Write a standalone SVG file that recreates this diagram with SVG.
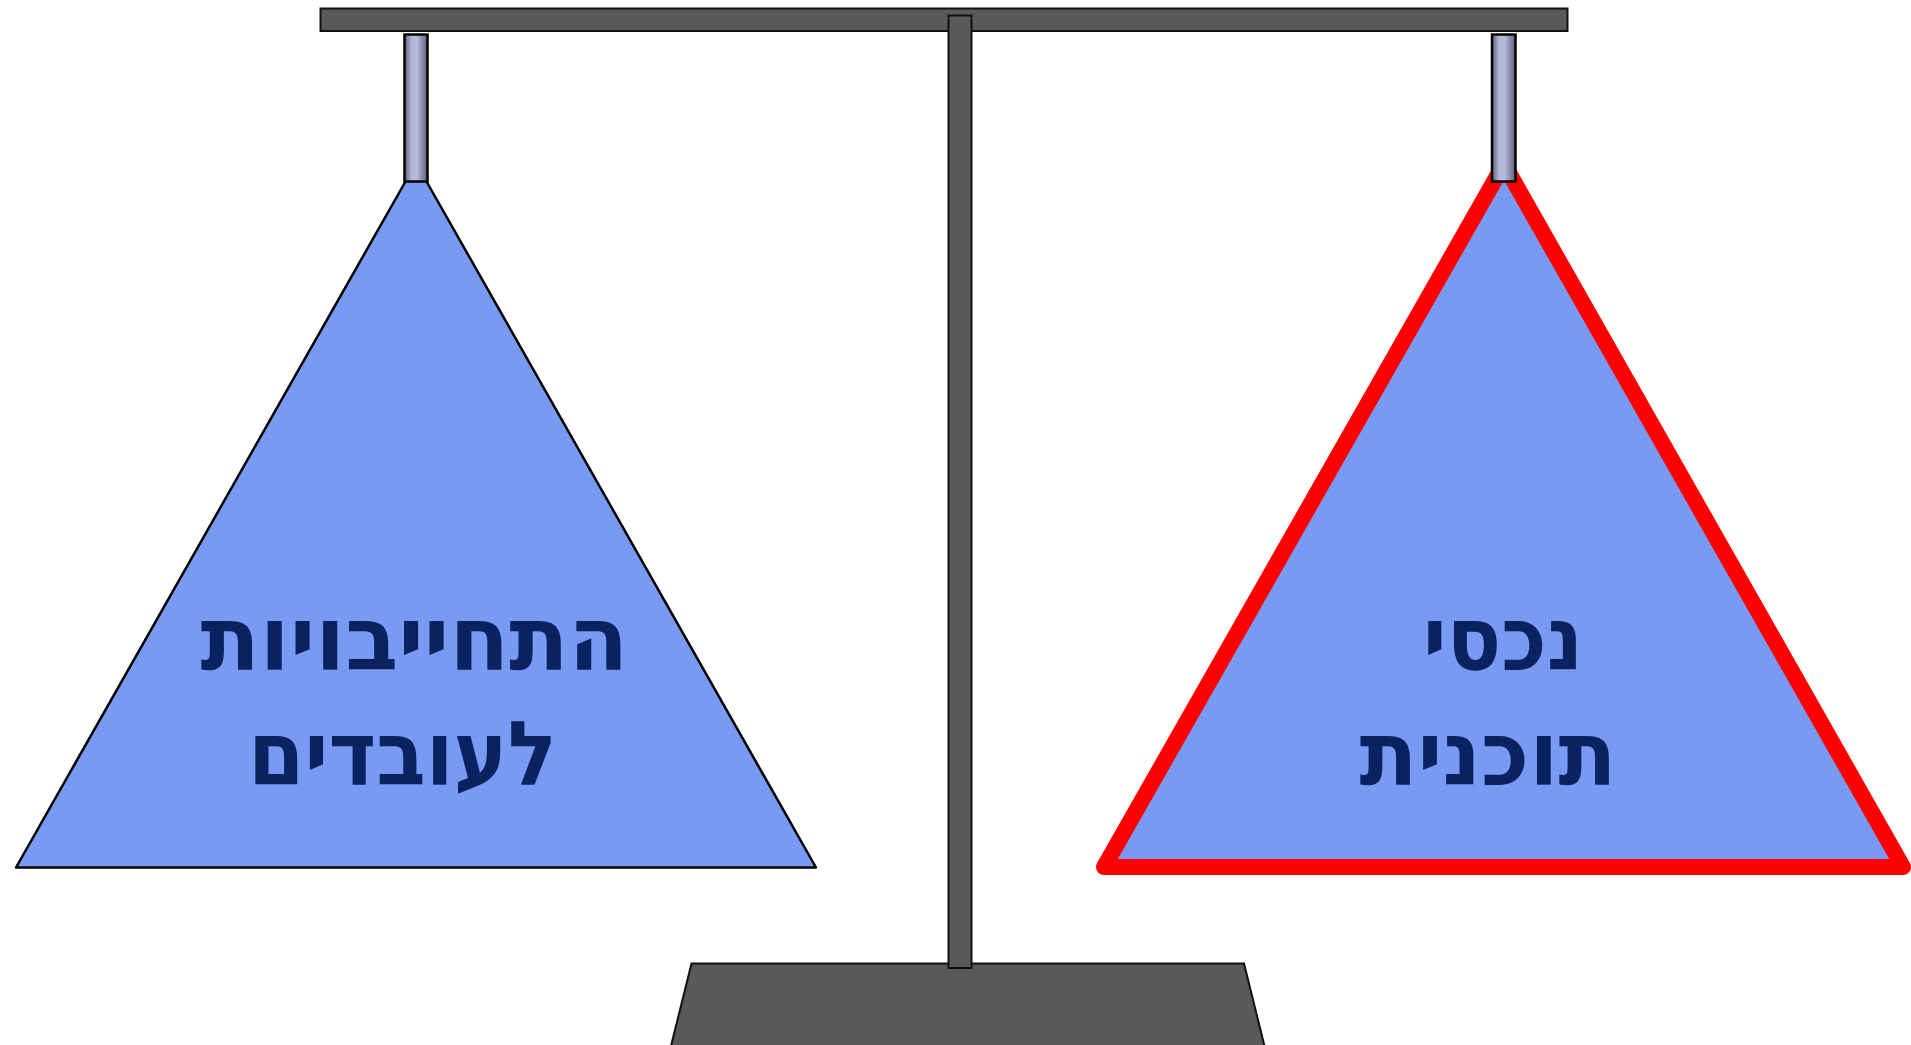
<svg xmlns="http://www.w3.org/2000/svg" width="1911" height="1045" viewBox="0 0 1911 1045">
<defs>
<linearGradient id="rod" x1="0" y1="0" x2="1" y2="0">
<stop offset="0" stop-color="#5f6278"/>
<stop offset="0.3" stop-color="#b3b6d4"/>
<stop offset="0.55" stop-color="#b6b9d7"/>
<stop offset="1" stop-color="#5c5f76"/>
</linearGradient>
<style>
.metal{fill:#595959;stroke:#111;stroke-width:2}
.hanger{fill:url(#rod);stroke:#000;stroke-width:2.5}
.pan{fill:#789af2}
.lbl{font-family:"DejaVu Sans","Liberation Sans",sans-serif;font-weight:bold;font-size:89px;fill:#0b2260;text-anchor:middle}
</style>
</defs>
<rect width="1911" height="1045" fill="#fff"/>
<g id="stand">
<rect class="metal" x="320.5" y="8.5" width="1247" height="22.5"/>
<polygon class="metal" points="691.5,963.5 1244,963.5 1264.5,1046 671,1046"/>
<rect class="metal" x="948.5" y="15.5" width="23" height="952.5"/>
</g>
<g id="left-pan">
<polygon class="pan" points="416,163 816,867.5 16,867.5" stroke="#000" stroke-width="2.5" stroke-linejoin="round"/>
<rect class="hanger" x="404.5" y="34.5" width="23" height="147"/>
<text class="lbl" x="414.4" y="670" textLength="428" lengthAdjust="spacingAndGlyphs">התחייבויות</text>
<text class="lbl" x="402.4" y="785" textLength="309" lengthAdjust="spacingAndGlyphs">לעובדים</text>
</g>
<g id="right-pan">
<polygon class="pan" points="1504,164 1903,867 1104,867" stroke="#ff0000" stroke-width="16" stroke-linejoin="round"/>
<rect class="hanger" x="1492" y="34.5" width="23.5" height="147"/>
<text class="lbl" x="1503" y="670" textLength="160" lengthAdjust="spacingAndGlyphs">נכסי</text>
<text class="lbl" x="1488" y="785" textLength="257" lengthAdjust="spacingAndGlyphs">תוכנית</text>
</g>
<g id="connectors"/>
</svg>
